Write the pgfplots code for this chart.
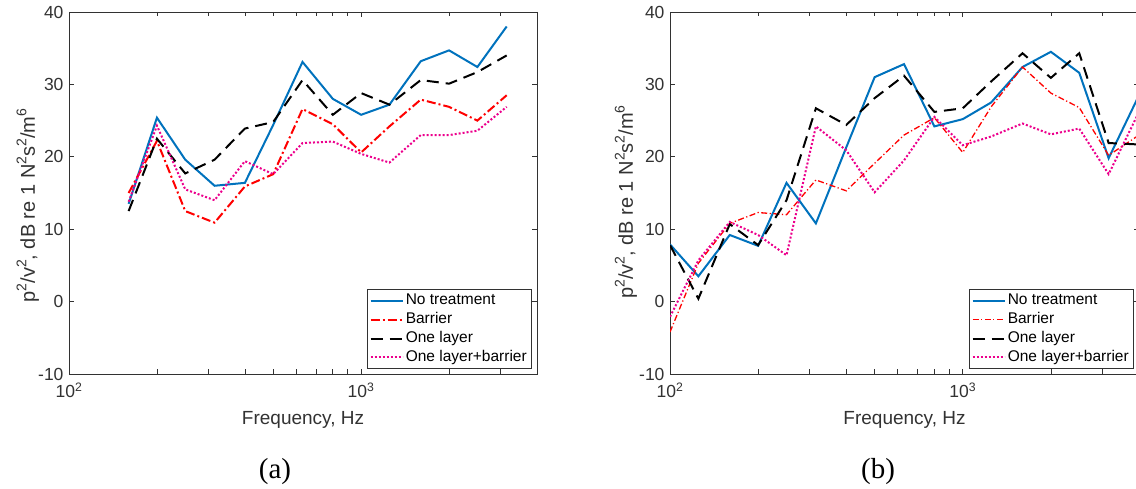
\documentclass[border=0pt]{standalone}
\usepackage{fontspec}
\setmainfont{Liberation Sans}
\newfontfamily\capfont{Liberation Serif}
\usepackage{pgfplots}
\pgfplotsset{compat=1.18}

\definecolor{mblue}{RGB}{0,114,189}
\definecolor{axgray}{RGB}{50,50,50}
\newcommand\ticksize{\fontsize{17.5}{20}\selectfont}
\newcommand\labsize{\fontsize{19}{22}\selectfont}
\newcommand\legsize{\fontsize{15.5}{18}\selectfont}
\newcommand\sq[1]{\raisebox{0.42em}{\fontsize{14}{14}\selectfont #1}}

\pgfplotsset{
  every axis/.append style={
    xmode=log, xmin=100, xmax=4000, ymin=-10, ymax=40,
    scale only axis, height=362pt,
    xtick={100,1000}, xticklabels={10\textsuperscript{2},10\textsuperscript{3}},
    minor xtick={200,300,400,500,600,700,800,900,2000,3000,4000},
    ytick={-10,0,10,20,30,40}, yticklabels={-10,0,10,20,30,40},
    tick align=inside, major tick length=5pt, minor tick length=4.5pt,
    axis line style={axgray, line width=0.8pt},
    ticklabel style={font=\ticksize, text=axgray},
    xticklabel style={yshift=-5pt},
    yticklabel style={xshift=-2pt},
    xlabel={Frequency, Hz},
    ylabel={p\sq{2}/v\sq{2}, dB re 1 N\sq{2}s\sq{2}/m\sq{6}},
    legend cell align=left,
    legend style={font=\legsize, draw=axgray, line width=0.8pt, fill=white,
      at={(rel axis cs:0.988,0.013)}, anchor=south east,
      inner sep=2pt, row sep=0pt,
      nodes={inner sep=2.2pt, text height=11pt, text depth=3.5pt}},
  },
  every tick/.style={axgray, line width=0.7pt},
  every axis x label/.style={at={(axis description cs:0.5,-0.127)}, anchor=center, font=\labsize, text=axgray},
  legend image code/.code={\draw[#1] (0pt,0pt) -- (32pt,0pt);},
}
\tikzset{
  nt/.style={mblue, line width=2pt},
  ol/.style={black, line width=2pt, dash pattern=on 12pt off 7pt},
  olb/.style={magenta, line width=2pt, dash pattern=on 2pt off 2pt},
}

\begin{document}
\begin{tikzpicture}[x=1pt,y=1pt]
\useasboundingbox (0,0) rectangle (1136,489);
\clip (0,0) rectangle (1136,489);

% (a)
\begin{axis}[at={(69pt,115pt)}, anchor=south west, width=468pt,
  every axis y label/.style={at={(axis description cs:-0.088,0.465)}, rotate=90, anchor=center, font=\fontsize{20}{22}\selectfont, text=axgray}]
\addplot[nt] coordinates {(160,13.5) (200,25.4) (250,19.6) (315,16.0) (400,16.4) (500,24.4) (630,33.1) (800,28.0) (1000,25.8) (1250,27.2) (1600,33.2) (2000,34.7) (2500,32.4) (3150,38.0)};
\addlegendentry{No treatment}
\addplot[red, line width=2pt, dash pattern=on 9pt off 3pt on 2pt off 3pt] coordinates {(160,15.0) (200,22.2) (250,12.5) (315,10.9) (400,15.9) (500,17.6) (630,26.6) (800,24.5) (1000,20.6) (1250,24.2) (1600,27.9) (2000,26.9) (2500,25.0) (3150,28.5)};
\addlegendentry{Barrier}
\addplot[ol] coordinates {(160,12.5) (200,22.5) (250,17.7) (315,19.6) (400,23.9) (500,24.8) (630,30.6) (800,25.8) (1000,28.8) (1250,27.2) (1600,30.6) (2000,30.1) (2500,31.7) (3150,34.0)};
\addlegendentry{One layer}
\addplot[olb] coordinates {(160,13.8) (200,24.3) (250,15.5) (315,14.0) (400,19.4) (500,17.6) (630,21.9) (800,22.1) (1000,20.4) (1250,19.2) (1600,23.0) (2000,23.0) (2500,23.6) (3150,26.9)};
\addlegendentry{One layer+barrier}
\end{axis}

% (b)
\begin{axis}[at={(670pt,115pt)}, anchor=south west, width=469pt,
  every axis y label/.style={at={(axis description cs:-0.094,0.475)}, rotate=90, anchor=center, font=\fontsize{20}{22}\selectfont, text=axgray}]
\addplot[nt] coordinates {(100,7.9) (125,3.5) (160,9.2) (200,7.7) (250,16.4) (315,10.8) (400,21.3) (500,31.0) (630,32.8) (800,24.2) (1000,25.2) (1250,27.5) (1600,32.4) (2000,34.5) (2500,31.6) (3150,19.8) (4000,28.5)};
\addlegendentry{No treatment}
\addplot[red, line width=1.3pt, dash pattern=on 6pt off 2.5pt on 1.2pt off 2.5pt] coordinates {(100,-4.2) (125,5.3) (160,10.8) (200,12.3) (250,12.0) (315,16.8) (400,15.3) (500,19.1) (630,23.0) (800,25.4) (1000,20.6) (1250,26.9) (1600,32.4) (2000,28.8) (2500,26.8) (3150,20.2) (4000,23.0)};
\addlegendentry{Barrier}
\addplot[ol] coordinates {(100,7.8) (125,0.4) (160,10.7) (200,7.8) (250,14.0) (315,26.7) (400,24.4) (500,28.1) (630,31.2) (800,26.2) (1000,26.7) (1250,30.4) (1600,34.3) (2000,30.9) (2500,34.3) (3150,21.9) (4000,21.7)};
\addlegendentry{One layer}
\addplot[olb] coordinates {(100,-2.1) (125,5.7) (160,11.0) (200,9.2) (250,6.4) (315,24.2) (400,20.9) (500,15.1) (630,19.5) (800,25.5) (1000,21.6) (1250,22.8) (1600,24.6) (2000,23.1) (2500,23.9) (3150,17.6) (4000,26.2)};
\addlegendentry{One layer+barrier}
\end{axis}

\node[font=\capfont\fontsize{29}{32}\selectfont] at (275,17) {(a)};
\node[font=\capfont\fontsize{29}{32}\selectfont] at (878,17) {(b)};
\end{tikzpicture}
\end{document}
